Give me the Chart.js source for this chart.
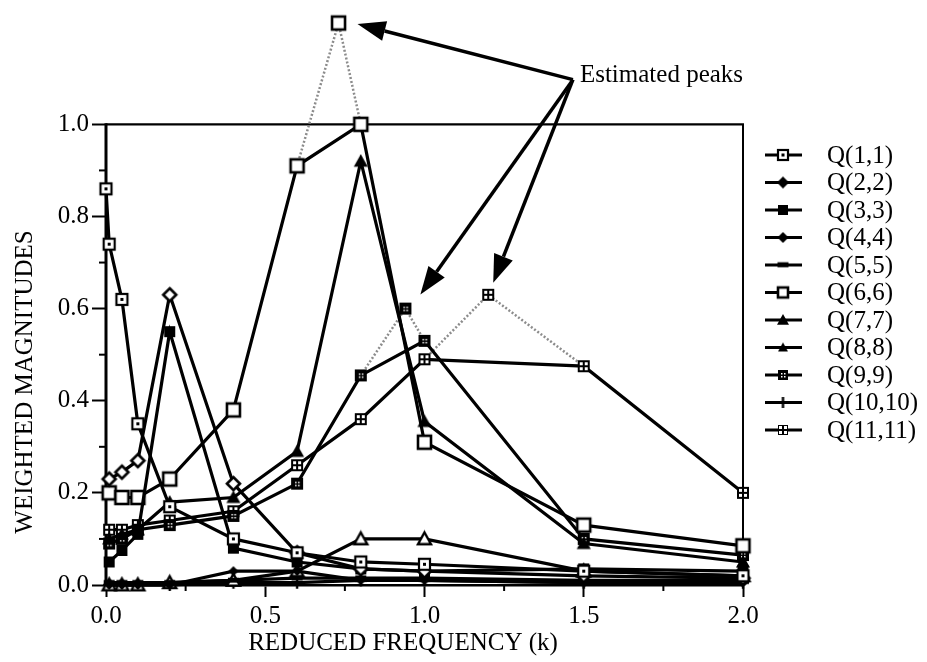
<!DOCTYPE html>
<html>
<head>
<meta charset="utf-8">
<script src="https://cdn.jsdelivr.net/npm/chart.js@4.4.1/dist/chart.umd.min.js"></script>
<style>
  html, body { margin: 0; padding: 0; background: #fff; }
  #wrap { width: 927px; height: 662px; }
</style>
</head>
<body>
<div id="wrap"><canvas id="c" width="927" height="662"></canvas></div>
<script>
// Reduced frequencies at which the weighted magnitudes were evaluated
const kFreq   = [0.01, 0.05, 0.1, 0.2, 0.4, 0.6, 0.8, 1.0, 1.5, 2.0];
const kFreqQ1 = [0.0, 0.01, 0.05, 0.1, 0.2, 0.4, 0.6, 0.8, 1.0, 1.5, 2.0];

// Weighted magnitudes of the diagonal terms
const q1  = [0.86, 0.74, 0.62, 0.35, 0.17, 0.10, 0.07, 0.05, 0.045, 0.03, 0.02];
const q2  = [0.23, 0.245, 0.27, 0.63, 0.22, 0.07, 0.035, 0.03, 0.02, 0.015];
const q3  = [0.05, 0.075, 0.11, 0.55, 0.08, 0.05, 0.035, 0.03, 0.035, 0.03];
const q4  = [0.0, 0.0, 0.0, 0.0, 0.03, 0.03, 0.01, 0.01, 0.005, 0.005];
const q5  = [0.005, 0.005, 0.005, 0.005, 0.01, 0.015, 0.015, 0.015, 0.01, 0.01];
const q6  = [0.20, 0.19, 0.19, 0.23, 0.38, 0.91, 1.00, 0.31, 0.13, 0.085];
const q7  = [0.10, 0.11, 0.12, 0.18, 0.19, 0.29, 0.92, 0.355, 0.09, 0.05];
const q8  = [0.0, 0.0, 0.0, 0.005, 0.01, 0.03, 0.10, 0.10, 0.03, 0.02];
const q9  = [0.09, 0.10, 0.12, 0.13, 0.15, 0.22, 0.455, 0.53, 0.10, 0.065];
const q10 = [0.0, 0.0, 0.0, 0.0, 0.005, 0.005, 0.01, 0.01, 0.005, 0.005];
const q11 = [0.12, 0.12, 0.13, 0.14, 0.16, 0.26, 0.36, 0.49, 0.475, 0.20];

const seriesLabels = ['Q(1,1)', 'Q(2,2)', 'Q(3,3)', 'Q(4,4)', 'Q(5,5)', 'Q(6,6)',
                      'Q(7,7)', 'Q(8,8)', 'Q(9,9)', 'Q(10,10)', 'Q(11,11)'];

// Estimated peaks between measured frequencies
const peakSeries = [5, 8, 10];
const peakK = [0.73, 0.94, 1.2];
const peakV = [1.22, 0.60, 0.63];

const xTicks = [0, 0.5, 1.0, 1.5, 2.0];
const yTicks = [0, 0.2, 0.4, 0.6, 0.8, 1.0];
const xMinor = [0.25, 0.75, 1.25, 1.75];
const yMinor = [0.1, 0.3, 0.5, 0.7, 0.9];

const annotationText = 'Estimated peaks';
const xTitle = 'REDUCED FREQUENCY (k)';
const yTitle = 'WEIGHTED MAGNITUDES';

// ---- marker glyphs ----
function makeMarker(kind, size) {
  const pad = 3;
  const s = Math.round(size + pad * 2);
  const c = document.createElement('canvas');
  c.width = s; c.height = s;
  const g = c.getContext('2d');
  const m = s / 2, h = size / 2;
  g.strokeStyle = '#000'; g.fillStyle = '#000'; g.lineWidth = 2.2;
  switch (kind) {
    case 'sqDot':
      g.fillStyle = '#fff'; g.fillRect(m - h, m - h, size, size);
      g.strokeRect(m - h, m - h, size, size);
      g.fillStyle = '#000'; g.fillRect(m - 1.5, m - 1.5, 3, 3);
      break;
    case 'sqOpen':
      g.fillStyle = '#fff'; g.fillRect(m - h, m - h, size, size);
      g.lineWidth = 2.6; g.strokeRect(m - h, m - h, size, size);
      break;
    case 'sqFill':
      g.fillRect(m - h, m - h, size, size);
      break;
    case 'sqDots':
      g.fillRect(m - h, m - h, size, size);
      g.fillStyle = '#fff';
      [[-2, -2], [1, -2], [-2, 1], [1, 1]].forEach(([dx, dy]) => g.fillRect(m + dx, m + dy, 1.5, 1.5));
      break;
    case 'sqGrid':
      g.fillRect(m - h, m - h, size, size);
      g.fillStyle = '#fff';
      [[-4, -4], [1, -4], [-4, 1], [1, 1]].forEach(([dx, dy]) => g.fillRect(m + dx, m + dy, 3, 3));
      break;
    case 'diamondFill':
      g.beginPath(); g.moveTo(m, m - h); g.lineTo(m + h, m); g.lineTo(m, m + h); g.lineTo(m - h, m); g.closePath(); g.fill();
      break;
    case 'diamondOpen':
      g.beginPath(); g.moveTo(m, m - h); g.lineTo(m + h, m); g.lineTo(m, m + h); g.lineTo(m - h, m); g.closePath();
      g.fillStyle = '#fff'; g.fill(); g.lineWidth = 2.6; g.stroke();
      break;
    case 'triFill':
      g.beginPath(); g.moveTo(m, m - h); g.lineTo(m + h, m + h * 0.8); g.lineTo(m - h, m + h * 0.8); g.closePath(); g.fill();
      break;
    case 'triOpen':
      g.beginPath(); g.moveTo(m, m - h); g.lineTo(m + h, m + h * 0.8); g.lineTo(m - h, m + h * 0.8); g.closePath();
      g.fillStyle = '#fff'; g.fill(); g.lineWidth = 2.4; g.stroke();
      break;
    case 'plus':
      g.lineWidth = 2.4;
      g.beginPath(); g.moveTo(m - h, m); g.lineTo(m + h, m); g.moveTo(m, m - h); g.lineTo(m, m + h); g.stroke();
      break;
    case 'dash':
      g.fillRect(m - h, m - h * 0.5, size, h * 0.9);
      break;
  }
  return c;
}

const plotMarkers = [
  makeMarker('sqDot', 11), makeMarker('diamondOpen', 13), makeMarker('sqFill', 11),
  makeMarker('diamondFill', 10), makeMarker('dash', 11), makeMarker('sqOpen', 13),
  makeMarker('triFill', 14), makeMarker('triOpen', 13), makeMarker('sqDots', 12),
  makeMarker('plus', 12), makeMarker('sqGrid', 12)
];
const legendMarkers = [
  makeMarker('sqDot', 10), makeMarker('diamondFill', 12), makeMarker('sqFill', 10),
  makeMarker('diamondFill', 11), makeMarker('dash', 11), makeMarker('sqOpen', 10),
  makeMarker('triFill', 12), makeMarker('triFill', 10), makeMarker('sqDots', 10),
  makeMarker('plus', 11), makeMarker('sqGrid', 10)
];

// ---- datasets ----
const allSeries = [q1, q2, q3, q4, q5, q6, q7, q8, q9, q10, q11];
const seriesK = allSeries.map((s, i) => (i === 0 ? kFreqQ1 : kFreq));

const datasets = allSeries.map((vals, i) => ({
  label: seriesLabels[i],
  data: vals.map((v, j) => ({ x: seriesK[i][j], y: v })),
  borderColor: '#000',
  borderWidth: 3.2,
  pointStyle: plotMarkers[i],
  pointRadius: 6,
  fill: false,
  tension: 0,
  clip: false
}));

peakSeries.forEach((si, p) => {
  const ks = seriesK[si], vs = allSeries[si];
  const j = ks.findIndex(k => k > peakK[p]);
  const pts = [{ x: ks[j - 1], y: vs[j - 1] }, { x: peakK[p], y: peakV[p] }, { x: ks[j], y: vs[j] }];
  datasets.push({
    label: 'peak-' + seriesLabels[si],
    data: pts,
    borderColor: '#8c8c8c',
    borderWidth: 2.5,
    borderDash: [2, 2],
    pointStyle: plotMarkers[si],
    pointRadius: [0, 6, 0],
    fill: false,
    tension: 0,
    clip: false
  });
});

const FONT = '"Liberation Serif", "Times New Roman", serif';
Chart.defaults.font.family = FONT;
Chart.defaults.font.size = 25;
Chart.defaults.color = '#000';

// frame, minor ticks and axis lines
const framePlugin = {
  id: 'frame',
  beforeDatasetsDraw(chart) {
    const { ctx, scales: { x, y } } = chart;
    ctx.save();
    ctx.strokeStyle = '#000';
    ctx.lineCap = 'butt';
    const x0 = x.getPixelForValue(0), x2 = x.getPixelForValue(2.0);
    const y0 = y.getPixelForValue(0), y1 = y.getPixelForValue(1.0);
    ctx.lineWidth = 2.2;
    ctx.beginPath(); ctx.moveTo(x0, y1); ctx.lineTo(x2 + 1, y1); ctx.stroke();
    ctx.lineWidth = 2;
    ctx.beginPath(); ctx.moveTo(x2, y1); ctx.lineTo(x2, y0); ctx.stroke();
    ctx.lineWidth = 3;
    ctx.beginPath(); ctx.moveTo(x0, y1 - 1); ctx.lineTo(x0, y0 + 1); ctx.stroke();
    ctx.lineWidth = 2;
    xMinor.forEach(k => {
      const px = x.getPixelForValue(k);
      ctx.beginPath(); ctx.moveTo(px, y0); ctx.lineTo(px, y0 + 6); ctx.stroke();
    });
    yMinor.forEach(v => {
      const py = y.getPixelForValue(v);
      ctx.beginPath(); ctx.moveTo(x0, py); ctx.lineTo(x0 - 7, py); ctx.stroke();
    });
    ctx.restore();
  }
};

function drawArrow(ctx, fx, fy, tx, ty) {
  const ang = Math.atan2(ty - fy, tx - fx);
  const headLen = 28, headHalf = 10;
  const bx = tx - headLen * Math.cos(ang), by = ty - headLen * Math.sin(ang);
  ctx.lineWidth = 3.5;
  ctx.beginPath(); ctx.moveTo(fx, fy); ctx.lineTo(bx, by); ctx.stroke();
  ctx.beginPath();
  ctx.moveTo(tx, ty);
  ctx.lineTo(bx + headHalf * Math.sin(ang), by - headHalf * Math.cos(ang));
  ctx.lineTo(bx - headHalf * Math.sin(ang), by + headHalf * Math.cos(ang));
  ctx.closePath(); ctx.fill();
}

// "Estimated peaks" callout, axis titles and legend
const decorPlugin = {
  id: 'decor',
  afterDatasetsDraw(chart) {
    const { ctx, scales: { x, y } } = chart;
    ctx.save();
    ctx.fillStyle = '#000'; ctx.strokeStyle = '#000';

    const ax = x.getPixelForValue(1.466), ay = y.getPixelForValue(1.097);
    const tipOffsets = [[19, 1], [15, -14], [5, -12]];
    peakK.forEach((k, p) => {
      const tx = x.getPixelForValue(k) + tipOffsets[p][0];
      const ty = y.getPixelForValue(peakV[p]) + tipOffsets[p][1];
      drawArrow(ctx, ax, ay, tx, ty);
    });
    ctx.font = '25px ' + FONT;
    ctx.textBaseline = 'middle'; ctx.textAlign = 'left';
    ctx.fillText(annotationText, ax + 7, ay - 4);

    // axis titles
    ctx.textAlign = 'center';
    ctx.fillText(xTitle, 403, 643);
    ctx.save();
    ctx.translate(25, 382);
    ctx.rotate(-Math.PI / 2);
    ctx.fillText(yTitle, 0, 0);
    ctx.restore();

    // legend
    const rowTop = 155, rowStep = 27.5;
    ctx.textAlign = 'left';
    seriesLabels.forEach((lab, i) => {
      const ry = rowTop + i * rowStep;
      ctx.lineWidth = 3;
      ctx.beginPath(); ctx.moveTo(765, ry); ctx.lineTo(802, ry); ctx.stroke();
      const img = legendMarkers[i];
      ctx.drawImage(img, 783 - img.width / 2, ry - img.height / 2);
      ctx.fillText(lab, 827, ry + 1);
    });
    ctx.restore();
  }
};

new Chart(document.getElementById('c'), {
  type: 'line',
  data: { datasets },
  options: {
    responsive: false,
    animation: false,
    devicePixelRatio: 1,
    layout: { padding: { top: 4, right: 184, bottom: 0, left: 0 } },
    plugins: { legend: { display: false }, tooltip: { enabled: false } },
    scales: {
      x: {
        type: 'linear',
        min: 0, max: 2.0,
        afterBuildTicks: s => { s.ticks = xTicks.map(v => ({ value: v })); },
        afterFit: s => { s.height = 77; s.paddingLeft = 0; s.paddingRight = 0; },
        ticks: { padding: 4, maxRotation: 0, callback: v => Number(v).toFixed(1), font: { size: 25 } },
        grid: { drawOnChartArea: false, drawTicks: true, tickLength: 12, tickWidth: 2, tickColor: '#000' },
        border: { display: true, color: '#000', width: 2.5 }
      },
      y: {
        type: 'linear',
        min: 0, max: 1.25,
        afterBuildTicks: s => { s.ticks = yTicks.map(v => ({ value: v })); },
        afterFit: s => { s.width = 106; s.paddingTop = 0; s.paddingBottom = 0; },
        ticks: { padding: 3, callback: v => Number(v).toFixed(1), font: { size: 25 } },
        grid: { drawOnChartArea: false, drawTicks: true, tickLength: 14, tickWidth: 2, tickColor: '#000' },
        border: { display: false }
      }
    }
  },
  plugins: [framePlugin, decorPlugin]
});
</script>
</body>
</html>
